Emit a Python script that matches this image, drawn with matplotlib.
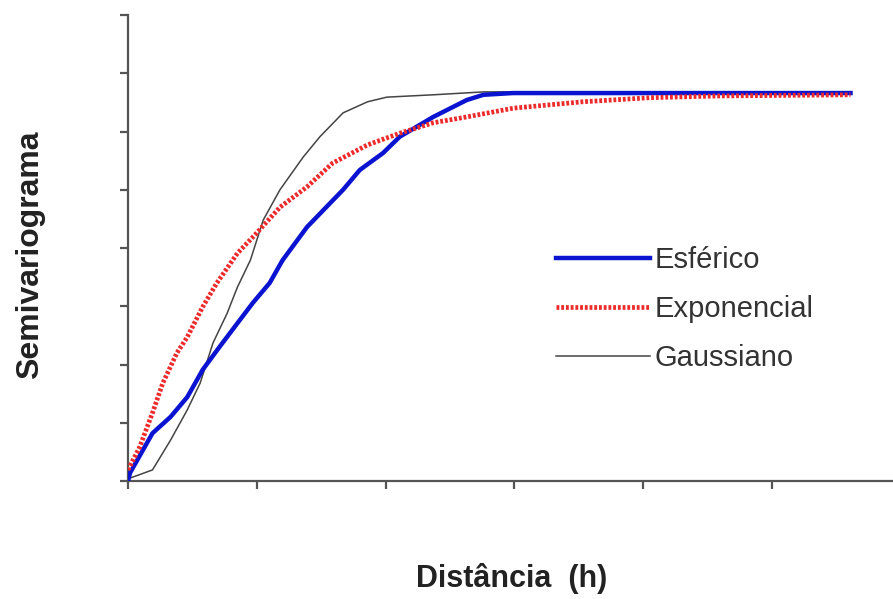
import matplotlib
matplotlib.use("Agg")
import matplotlib.pyplot as plt

plt.rcParams['font.family'] = ['Liberation Sans', 'DejaVu Sans']

# distancia (h) e semivariograma
esf_h = [0.0, 0.016, 0.19, 0.33, 0.46, 0.58, 0.71, 0.85, 0.97, 1.10, 1.20, 1.39,
         1.67, 1.80, 1.98, 2.11, 2.37, 2.63, 2.76, 2.99, 5.61]
esf_g = [0.0, 0.14, 0.82, 1.10, 1.44, 1.91, 2.30, 2.71, 3.06, 3.40, 3.79, 4.36,
         5.00, 5.34, 5.63, 5.91, 6.25, 6.54, 6.63, 6.66, 6.66]

exp_h = [0.0, 0.09, 0.19, 0.27, 0.38, 0.46, 0.58, 0.69, 0.85, 1.00, 1.18, 1.39,
         1.59, 1.86, 2.11, 2.37, 2.63, 2.99, 3.53, 4.05, 4.57, 5.61]
exp_g = [0.19, 0.58, 1.17, 1.68, 2.20, 2.47, 2.99, 3.40, 3.91, 4.26, 4.70, 5.05,
         5.46, 5.77, 5.97, 6.15, 6.25, 6.40, 6.51, 6.58, 6.61, 6.63]

gau_h = [0.0, 0.016, 0.19, 0.33, 0.46, 0.56, 0.66, 0.77, 0.85, 0.95, 1.05, 1.18,
         1.36, 1.49, 1.67, 1.86, 2.01, 2.37, 2.76, 5.61]
gau_g = [0.0, 0.05, 0.19, 0.70, 1.22, 1.68, 2.37, 2.88, 3.33, 3.79, 4.48, 5.00,
         5.56, 5.91, 6.32, 6.51, 6.59, 6.63, 6.68, 6.68]

labels = ["Esférico", "Exponencial", "Gaussiano"]

fig = plt.figure(figsize=(8.93, 5.99), dpi=100)
ax = fig.add_axes([128 / 893, 118 / 599, 765 / 893, 466 / 599])

ax.plot(gau_h, gau_g, color="#444444", lw=1.1, label=labels[2], zorder=2)
ax.plot(esf_h, esf_g, color="#0a14d0", lw=3.2, label=labels[0], zorder=3)
ax.plot(exp_h, exp_g, color="#ee2a2a", lw=3.4, ls=(0, (0.6, 0.4)),
        label=labels[1], zorder=4)

ax.set_xlim(0, 5.94)
ax.set_ylim(0, 8)
ax.set_xticks(range(6))
ax.set_yticks(range(9))
ax.set_xticklabels([])
ax.set_yticklabels([])
ax.tick_params(direction="out", length=6, width=1.6, color="#555555")
for s in ["top", "right"]:
    ax.spines[s].set_visible(False)
for s in ["left", "bottom"]:
    ax.spines[s].set_color("#555555")
    ax.spines[s].set_linewidth(1.6)
ax.spines["left"].set_bounds(0, 8)

h, l = ax.get_legend_handles_labels()
order = [1, 2, 0]
leg = ax.legend([h[i] for i in order], [l[i] for i in order],
                loc="upper left", bbox_to_anchor=(0.54, 0.535),
                frameon=False, fontsize=21, handlelength=3.25,
                handletextpad=0.15, labelspacing=0.72, borderpad=0)
for t in leg.get_texts():
    t.set_color("#333333")

fig.text(30 / 893, 1 - 255 / 599, "Semivariograma", rotation=90,
         ha="center", va="center", fontsize=23, fontweight="bold", color="#222222")
fig.text(512 / 893, 1 - 578 / 599, "Distância  (h)", ha="center", va="center",
         fontsize=22, fontweight="bold", color="#222222")

fig.savefig("out.png", dpi=100)
